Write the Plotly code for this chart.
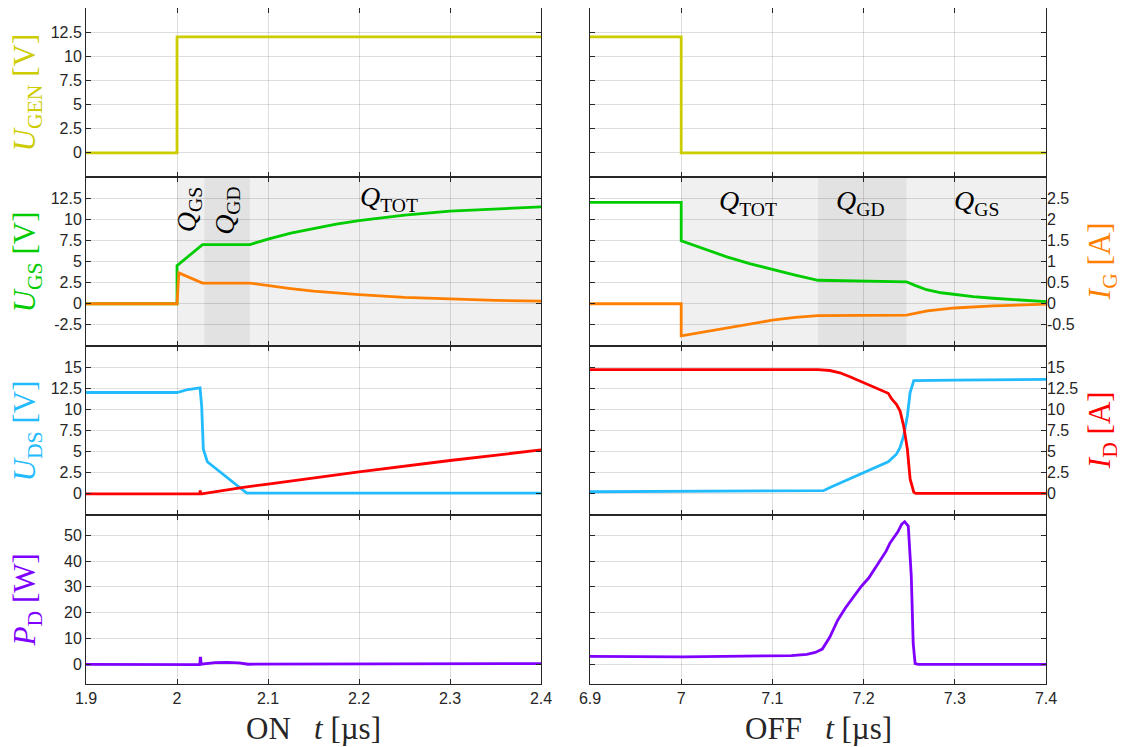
import plotly.graph_objects as go

# ---------------- data ----------------
# ON transition (t in microseconds)
t_ugen_on = [1.9, 2.0, 2.0, 2.4]
ugen_on = [0, 0, 12, 12]

t_ugs_on = [1.9, 2.0, 2.0, 2.028, 2.08, 2.1, 2.125, 2.15, 2.175, 2.2, 2.25, 2.3, 2.35, 2.4]
ugs_on = [0, 0, 4.5, 7.0, 7.0, 7.65, 8.35, 8.93, 9.42, 9.84, 10.48, 10.95, 11.25, 11.47]

t_ig_on = [1.9, 2.0, 2.002, 2.028, 2.08, 2.1, 2.125, 2.15, 2.2, 2.25, 2.3, 2.35, 2.4]
ig_on = [0, 0, 0.73, 0.49, 0.49, 0.43, 0.36, 0.30, 0.215, 0.15, 0.107, 0.078, 0.06]

t_uds_on = [1.9, 2.0, 2.012, 2.0253, 2.0271, 2.0289, 2.0333, 2.0766, 2.4]
uds_on = [12, 12, 12.35, 12.55, 10.4, 5.3, 3.8, 0.1, 0.1]

t_id_on = [1.9, 2.025, 2.0255, 2.026, 2.027, 2.0729, 2.1, 2.2, 2.3, 2.4]
id_on = [0, 0, 0.4, 0, 0, 0.78, 1.15, 2.6, 3.95, 5.2]

t_pd_on = [1.9, 2.0, 2.025, 2.0255, 2.026, 2.0265, 2.03, 2.042, 2.055, 2.068, 2.078, 2.4]
pd_on = [0, 0, -0.1, 2.4, 2.4, 0.1, 0.3, 0.7, 0.8, 0.6, 0.05, 0.3]

# OFF transition
t_ugen_off = [6.9, 7.0, 7.0, 7.4]
ugen_off = [12, 12, 0, 0]

t_ugs_off = [6.9, 7.0, 7.0, 7.013, 7.025, 7.05, 7.075, 7.1, 7.125, 7.15, 7.2, 7.247,
             7.257, 7.269, 7.285, 7.3, 7.32, 7.342, 7.37, 7.4]
ugs_off = [12, 12, 7.44, 6.93, 6.45, 5.55, 4.75, 4.06, 3.4, 2.78, 2.7, 2.6,
           2.15, 1.66, 1.3, 1.08, 0.85, 0.65, 0.42, 0.24]

t_ig_off = [6.9, 7.0, 7.0, 7.025, 7.05, 7.075, 7.1, 7.125, 7.15, 7.247, 7.27, 7.3, 7.342, 7.4]
ig_off = [0, 0, -0.76, -0.67, -0.58, -0.48, -0.39, -0.32, -0.28, -0.27, -0.17, -0.1, -0.05, -0.01]

t_uds_off = [6.9, 7.0, 7.15, 7.156, 7.165, 7.18, 7.2, 7.227, 7.236, 7.24, 7.244, 7.248,
             7.251, 7.255, 7.3, 7.4]
uds_off = [0.25, 0.27, 0.3, 0.38, 0.85, 1.55, 2.45, 3.8, 4.7, 5.5, 6.9, 9.25,
           12.0, 13.4, 13.45, 13.55]

t_id_off = [6.9, 7.15, 7.163, 7.174, 7.185, 7.2, 7.218, 7.227, 7.231, 7.236, 7.24, 7.244,
            7.248, 7.251, 7.255, 7.257, 7.4]
id_off = [14.7, 14.7, 14.6, 14.33, 13.86, 13.15, 12.37, 11.9, 11.2, 10.6, 9.8, 8.0,
          5.3, 1.77, 0.2, 0.05, 0.05]

t_pd_off = [6.9, 7.0, 7.002, 7.1207, 7.1377, 7.147, 7.1547, 7.163, 7.1716, 7.18, 7.1886,
            7.197, 7.2056, 7.215, 7.2247, 7.229, 7.2374, 7.2417, 7.245, 7.249, 7.2523,
            7.2544, 7.2565, 7.26, 7.4]
pd_off = [3.1, 3.1, 2.9, 3.4, 3.9, 4.6, 5.9, 10.6, 17.1, 21.8, 26,
          30, 33.4, 38.5, 43.8, 47, 51.2, 54.2, 55.2, 53.5, 34,
          8, 0.3, 0, 0]

# tick labels
x_on_ticks = [1.9, 2.0, 2.1, 2.2, 2.3, 2.4]
x_on_text = ["1.9", "2", "2.1", "2.2", "2.3", "2.4"]
x_off_ticks = [6.9, 7.0, 7.1, 7.2, 7.3, 7.4]
x_off_text = ["6.9", "7", "7.1", "7.2", "7.3", "7.4"]

ugen_ticks = [0, 2.5, 5, 7.5, 10, 12.5]
ugen_text = ["0", "2.5", "5", "7.5", "10", "12.5"]
ugs_ticks = [-2.5, 0, 2.5, 5, 7.5, 10, 12.5]
ugs_text = ["-2.5", "0", "2.5", "5", "7.5", "10", "12.5"]
ig_ticks = [-0.5, 0, 0.5, 1, 1.5, 2, 2.5]
ig_text = ["-0.5", "0", "0.5", "1", "1.5", "2", "2.5"]
uds_ticks = [0, 2.5, 5, 7.5, 10, 12.5, 15]
uds_text = ["0", "2.5", "5", "7.5", "10", "12.5", "15"]
pd_ticks = [0, 10, 20, 30, 40, 50]
pd_text = ["0", "10", "20", "30", "40", "50"]

# ---------------- styling ----------------
C_UGEN = "#cccc00"
C_UGS = "#00cc00"
C_IG = "#ff8000"
C_UDS = "#22bbff"
C_ID = "#ff0000"
C_PD = "#8000ff"
LW = 2.8
SERIF = "Liberation Serif"
SANS = "Liberation Sans"
DARK = "#262626"

fig = go.Figure()


def add(tx, ty, color, xa, ya):
    fig.add_trace(go.Scatter(x=tx, y=ty, mode="lines", line=dict(color=color, width=LW),
                             xaxis=xa, yaxis=ya, showlegend=False, hoverinfo="skip"))


add(t_ugen_on, ugen_on, C_UGEN, "x", "y")
add(t_ugen_off, ugen_off, C_UGEN, "x2", "y2")
add(t_ugs_on, ugs_on, C_UGS, "x3", "y3")
add(t_ig_on, ig_on, C_IG, "x3", "y9")
add(t_ugs_off, ugs_off, C_UGS, "x4", "y4")
add(t_ig_off, ig_off, C_IG, "x4", "y10")
add(t_uds_on, uds_on, C_UDS, "x5", "y5")
add(t_id_on, id_on, C_ID, "x5", "y5")
add(t_uds_off, uds_off, C_UDS, "x6", "y6")
add(t_id_off, id_off, C_ID, "x6", "y11")
add(t_pd_on, pd_on, C_PD, "x7", "y7")
add(t_pd_off, pd_off, C_PD, "x8", "y8")

base = dict(showline=True, linecolor=DARK, linewidth=1, mirror="ticks", ticks="inside",
            ticklen=5, tickwidth=1, tickcolor=DARK, showgrid=True,
            gridcolor="rgba(0,0,0,0.13)", gridwidth=1, zeroline=False,
            tickfont=dict(family=SANS, size=16, color=DARK))

col_dom = [[0.0, 0.474], [0.525, 1.0]]
y_specs = [
    ([-2.5, 15], ugen_ticks, ugen_text),
    ([-5, 15], ugs_ticks, ugs_text),
    ([-2.5, 17.5], uds_ticks, uds_text),
    ([-7.6, 57.8], pd_ticks, pd_text),
]

layout = {}
for r in range(4):
    for c in range(2):
        k = 2 * r + c + 1
        xs = "xaxis" if k == 1 else f"xaxis{k}"
        ys = "yaxis" if k == 1 else f"yaxis{k}"
        xr = "x" if k == 1 else f"x{k}"
        yr = "y" if k == 1 else f"y{k}"
        xt = (x_on_ticks, x_on_text) if c == 0 else (x_off_ticks, x_off_text)
        layout[xs] = dict(base, domain=col_dom[c], anchor=yr,
                          range=[xt[0][0], xt[0][-1]], tickvals=xt[0], ticktext=xt[1],
                          showticklabels=(r == 3))
        rng, tv, tt = y_specs[r]
        layout[ys] = dict(base, domain=[1 - (r + 1) * 0.25, 1 - r * 0.25], anchor=xr,
                          range=rng, tickvals=tv, ticktext=tt,
                          showticklabels=(c == 0))

ov = dict(showline=False, showgrid=False, zeroline=False, ticks="",
          tickfont=dict(family=SANS, size=16, color=DARK))
layout["yaxis9"] = dict(ov, overlaying="y3", anchor="x3", side="right", range=[-1, 3],
                        showticklabels=False)
layout["yaxis10"] = dict(ov, overlaying="y4", anchor="x4", side="right", range=[-1, 3],
                         tickvals=ig_ticks, ticktext=ig_text, showticklabels=True)
layout["yaxis11"] = dict(ov, overlaying="y6", anchor="x6", side="right", range=[-2.5, 17.5],
                         tickvals=uds_ticks, ticktext=uds_text, showticklabels=True)

fig.update_layout(**layout)

# shaded charge regions (row 2)
shapes = []
for (x0, x1, col, xr) in [(2.0, 2.4, "#f0f0f0", "x3"), (2.03, 2.08, "#e2e2e2", "x3"),
                          (7.0, 7.4, "#f0f0f0", "x4"), (7.15, 7.247, "#e2e2e2", "x4")]:
    shapes.append(dict(type="rect", xref=xr, yref=f"y{xr[1:]} domain", x0=x0, x1=x1, y0=0, y1=1,
                       fillcolor=col, line=dict(width=0), layer="below"))

ann = []
QF = dict(family=SERIF, size=28, color="black")
ann.append(dict(x=2.0135, y=11.1, xref="x3", yref="y3", text="<i>Q</i><sub>GS</sub>",
                textangle=-90, showarrow=False, font=QF))
ann.append(dict(x=2.055, y=11.0, xref="x3", yref="y3", text="<i>Q</i><sub>GD</sub>",
                textangle=-90, showarrow=False, font=QF))
ann.append(dict(x=2.233, y=12.4, xref="x3", yref="y3", text="<i>Q</i><sub>TOT</sub>",
                showarrow=False, font=QF))
ann.append(dict(x=7.073, y=12.0, xref="x4", yref="y4", text="<i>Q</i><sub>TOT</sub>",
                showarrow=False, font=QF))
ann.append(dict(x=7.197, y=12.0, xref="x4", yref="y4", text="<i>Q</i><sub>GD</sub>",
                showarrow=False, font=QF))
ann.append(dict(x=7.324, y=12.0, xref="x4", yref="y4", text="<i>Q</i><sub>GS</sub>",
                showarrow=False, font=QF))

TF = 31
for (txt, col, yc) in [("<i>U</i><sub>GEN</sub> [V]", C_UGEN, 0.875),
                       ("<i>U</i><sub>GS</sub> [V]", C_UGS, 0.625),
                       ("<i>U</i><sub>DS</sub> [V]", C_UDS, 0.375),
                       ("<i>P</i><sub>D</sub> [W]", C_PD, 0.125)]:
    ann.append(dict(x=-0.0615, y=yc, xref="paper", yref="paper", text=txt, textangle=-90,
                    showarrow=False, xanchor="center", yanchor="middle",
                    font=dict(family=SERIF, size=TF, color=col)))
for (txt, col, yc) in [("<i>I</i><sub>G</sub> [A]", C_IG, 0.625),
                       ("<i>I</i><sub>D</sub> [A]", C_ID, 0.375)]:
    ann.append(dict(x=1.058, y=yc, xref="paper", yref="paper", text=txt, textangle=-90,
                    showarrow=False, xanchor="center", yanchor="middle",
                    font=dict(family=SERIF, size=TF, color=col)))

for (txt, xc) in [("ON\u2002 <i>t</i> [µs]", 0.237), ("OFF\u2002 <i>t</i> [µs]", 0.7625)]:
    ann.append(dict(x=xc, y=-0.066, xref="paper", yref="paper", text=txt, showarrow=False,
                    xanchor="center", yanchor="middle",
                    font=dict(family=SERIF, size=TF, color=DARK)))

# the page body adds an 8 px offset; size the figure so it ends at the window edge
fig.update_layout(width=1119, height=739, margin=dict(l=78, r=81, t=0, b=63),
                  paper_bgcolor="white", plot_bgcolor="white", shapes=shapes, annotations=ann,
                  showlegend=False)

fig.write_html("out.html")
